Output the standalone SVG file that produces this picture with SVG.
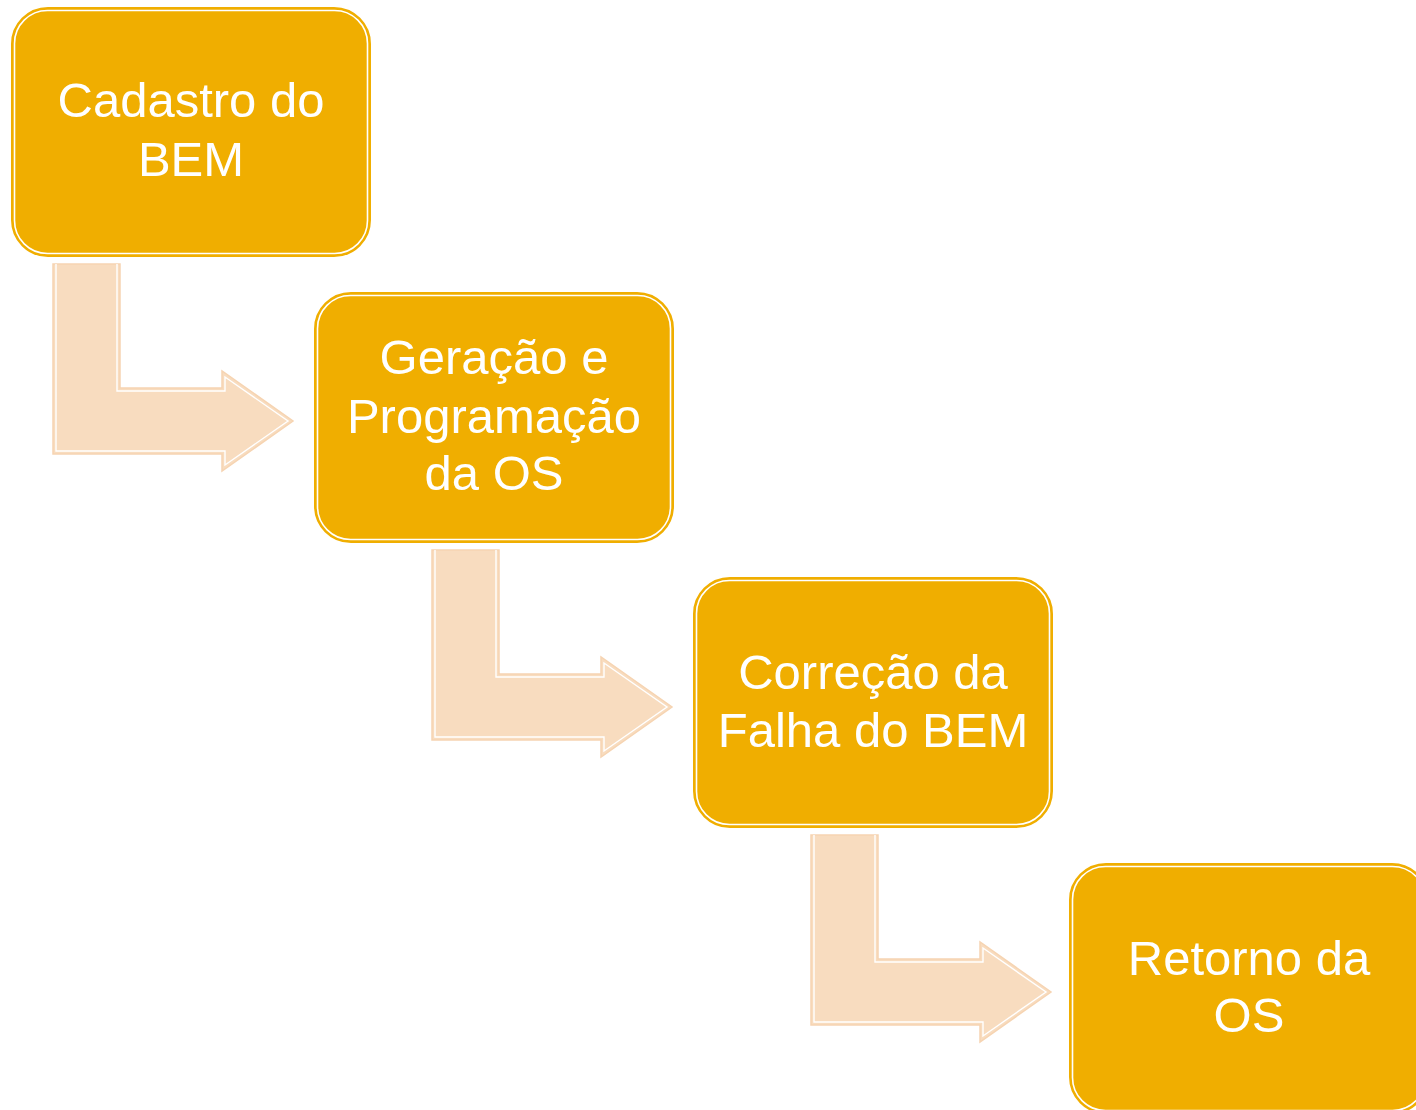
<svg xmlns="http://www.w3.org/2000/svg" width="1416" height="1110" viewBox="0 0 1416 1110">
<style>
.box{fill:#F0AE00;stroke:#F0AE00;stroke-width:2}
.inner{fill:none;stroke:#FFFFFF;stroke-width:1.6}
.lbl{font-family:"Liberation Sans",Arial,sans-serif;font-size:49px;fill:#FFFFFF;text-anchor:middle}
.arw{fill:#F8DCBF;stroke:#F6D4B2;stroke-width:1.5}
.arwi{fill:none;stroke:#FFFFFF;stroke-width:1.4}
</style>
<defs>
<g id="arrowShape">
<path class="arw" d="M53,264 L120,264 L120,388 L222,388 L222,371 L293,421 L222,471 L222,454 L53,454 Z"/>
<path class="arwi" d="M56,264 L56,451 L225,451 L225,465 L288,421 L225,377 L225,391 L117,391 L117,264"/>
</g>
</defs>
<rect width="1416" height="1110" fill="#FFFFFF"/>
<g id="connectors">
<use href="#arrowShape"/>
<use href="#arrowShape" transform="translate(379,286)"/>
<use href="#arrowShape" transform="translate(758,571)"/>
</g>
<g id="node1">
<rect class="box" x="12" y="8" width="358" height="248" rx="36"/>
<rect class="inner" x="14.5" y="10.5" width="353" height="243" rx="33"/>
<text class="lbl" x="191" y="117">Cadastro do</text>
<text class="lbl" x="191" y="176">BEM</text>
</g>
<g id="node2">
<rect class="box" x="315" y="293" width="358" height="249" rx="36"/>
<rect class="inner" x="317.5" y="295.5" width="353" height="244" rx="33"/>
<text class="lbl" x="494" y="374">Geração e</text>
<text class="lbl" x="494" y="433">Programação</text>
<text class="lbl" x="494" y="490">da OS</text>
</g>
<g id="node3">
<rect class="box" x="694" y="578" width="358" height="249" rx="36"/>
<rect class="inner" x="696.5" y="580.5" width="353" height="244" rx="33"/>
<text class="lbl" x="873" y="689">Correção da</text>
<text class="lbl" x="873" y="747">Falha do BEM</text>
</g>
<g id="node4">
<rect class="box" x="1070" y="864" width="358" height="249" rx="36"/>
<rect class="inner" x="1072.5" y="866.5" width="353" height="244" rx="33"/>
<text class="lbl" x="1249" y="975">Retorno da</text>
<text class="lbl" x="1249" y="1032">OS</text>
</g>
</svg>
